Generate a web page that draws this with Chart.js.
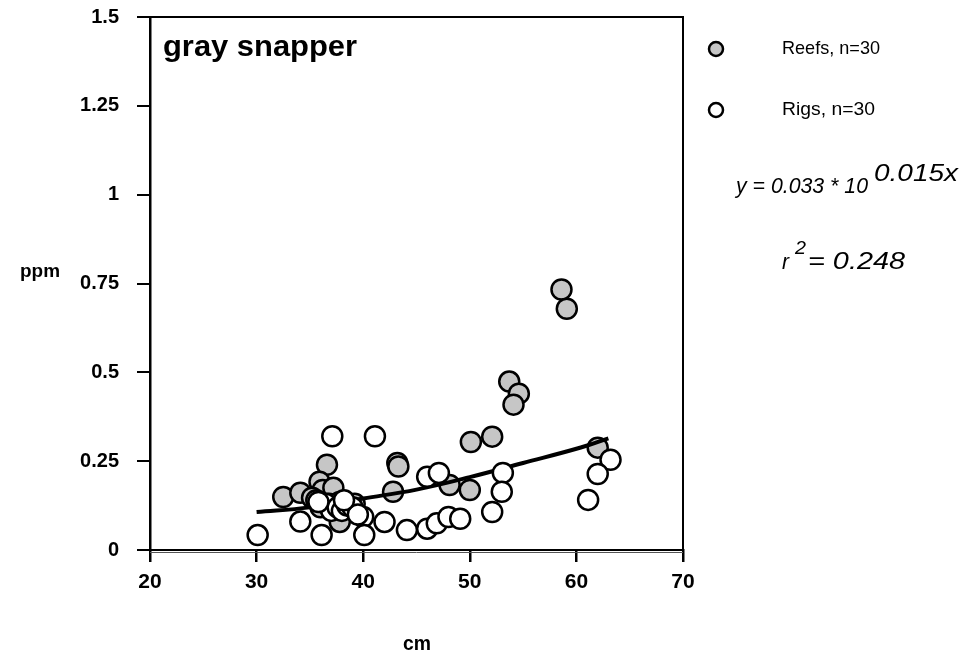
<!DOCTYPE html>
<html>
<head>
<meta charset="utf-8">
<script src="https://cdn.jsdelivr.net/npm/chart.js@4"></script>
<style>
  html, body { margin: 0; padding: 0; background: #fff; }
  #wrap { width: 969px; height: 657px; }
</style>
</head>
<body>
<div id="wrap"><canvas id="chart" width="969" height="657"></canvas></div>
<script>
// Reefs (gray)
const reefsX = [58.6, 59.1, 53.7, 54.6, 54.1, 52.1, 50.1, 62.0, 48.1, 50.0,
                43.2, 43.3, 42.8, 36.6, 32.5, 34.1, 35.9, 36.2, 37.2, 35.2,
                37.8, 35.6, 36.3, 36.8, 37.3, 37.8, 38.2, 38.7, 39.2, 36.0];
const reefsY = [0.733, 0.679, 0.474, 0.44, 0.409, 0.319, 0.304, 0.288, 0.183, 0.169,
                0.245, 0.235, 0.164, 0.24, 0.149, 0.161, 0.192, 0.169, 0.175, 0.147,
                0.079, 0.14, 0.125, 0.13, 0.12, 0.135, 0.125, 0.13, 0.13, 0.12];

// Rigs (white)
const rigsX = [30.1, 34.1, 36.1, 37.1, 41.1, 40.0, 40.1, 42.0, 44.1, 46.0,
               46.9, 48.0, 49.1, 46.0, 47.1, 53.1, 53.0, 52.1, 63.2, 62.0,
               61.1, 36.5, 37.0, 37.6, 38.0, 38.5, 39.0, 35.8, 39.5, 38.2];
const rigsY = [0.042, 0.08, 0.042, 0.32, 0.32, 0.093, 0.042, 0.079, 0.056, 0.06,
               0.075, 0.093, 0.088, 0.206, 0.217, 0.217, 0.164, 0.107, 0.254, 0.214,
               0.141, 0.13, 0.11, 0.12, 0.11, 0.125, 0.12, 0.135, 0.10, 0.14];

// fitted curve
const fitX = [30, 35, 40, 45, 50, 55, 60, 63];
const fitY = [0.107, 0.12, 0.145, 0.17, 0.205, 0.245, 0.285, 0.314];

const xTicks = [20, 30, 40, 50, 60, 70];
const yTickLabels = ['0', '0.25', '0.5', '0.75', '1', '1.25', '1.5'];

const toPts = (xs, ys) => xs.map((x, i) => ({ x: x, y: ys[i] }));

const FONT = '"Liberation Sans", Arial, sans-serif';
const GRAY = '#c6c6c6';

// squeeze/stretch a text to the width it has in the original
function fitText(ctx, txt, x, y, font, w) {
    ctx.save();
    ctx.font = font;
    const s = w / ctx.measureText(txt).width;
    ctx.translate(x, y);
    ctx.scale(s, 1);
    ctx.textAlign = 'left';
    ctx.fillText(txt, 0, 0);
    ctx.restore();
}

// box top/right + free text
const extras = {
    id: 'extras',
    afterDraw(chart) {
        const ctx = chart.ctx;
        const a = chart.chartArea;
        ctx.save();
        ctx.strokeStyle = '#000';
        ctx.lineWidth = 2;
        ctx.beginPath();
        ctx.moveTo(a.left, a.top);
        ctx.lineTo(a.right, a.top);
        ctx.lineTo(a.right, a.bottom + 2);
        ctx.stroke();
        // thin second line under the x axis
        ctx.lineWidth = 1;
        ctx.strokeStyle = '#555';
        ctx.beginPath();
        ctx.moveTo(a.left, a.bottom + 2.5);
        ctx.lineTo(a.right, a.bottom + 2.5);
        ctx.stroke();

        ctx.fillStyle = '#000';
        ctx.textBaseline = 'middle';
        fitText(ctx, 'gray snapper', 163, 48, 'bold 29px ' + FONT, 194);
        fitText(ctx, 'ppm', 20, 272, 'bold 19px ' + FONT, 40);
        fitText(ctx, 'cm', 403, 644, 'bold 20px ' + FONT, 28);

        // legend
        ctx.lineWidth = 2.5;
        ctx.strokeStyle = '#000';
        ctx.beginPath();
        ctx.arc(716, 49, 7, 0, Math.PI * 2);
        ctx.fillStyle = GRAY;
        ctx.fill();
        ctx.stroke();
        ctx.beginPath();
        ctx.arc(716, 110, 7, 0, Math.PI * 2);
        ctx.fillStyle = '#fff';
        ctx.fill();
        ctx.stroke();

        ctx.fillStyle = '#000';
        fitText(ctx, 'Reefs, n=30', 782, 49, '19px ' + FONT, 98);
        fitText(ctx, 'Rigs, n=30', 782, 110, '19px ' + FONT, 93);

        // equation
        fitText(ctx, 'y = 0.033 * 10', 736, 187, 'italic 22px ' + FONT, 132);
        fitText(ctx, '0.015x', 874, 174, 'italic 24px ' + FONT, 84);
        fitText(ctx, 'r', 782, 263, 'italic 22px ' + FONT, 7);
        fitText(ctx, '2', 795, 249, 'italic 19px ' + FONT, 11);
        fitText(ctx, '= 0.248', 808, 263, 'italic 23px ' + FONT, 97);
        ctx.restore();
    }
};

new Chart(document.getElementById('chart'), {
    type: 'scatter',
    data: {
        datasets: [
            {
                label: 'Reefs, n=30',
                data: toPts(reefsX, reefsY),
                pointRadius: 10,
                pointBorderWidth: 2.5,
                backgroundColor: GRAY,
                borderColor: '#000',
                order: 3
            },
            {
                label: 'fit',
                type: 'line',
                data: toPts(fitX, fitY),
                borderColor: '#000',
                borderWidth: 4,
                pointRadius: 0,
                tension: 0.4,
                fill: false,
                order: 2
            },
            {
                label: 'Rigs, n=30',
                data: toPts(rigsX, rigsY),
                pointRadius: 10,
                pointBorderWidth: 2.5,
                backgroundColor: '#fff',
                borderColor: '#000',
                order: 1
            }
        ]
    },
    options: {
        responsive: false,
        animation: false,
        layout: { padding: { left: 0, right: 286, top: 17, bottom: 0 } },
        plugins: {
            legend: { display: false },
            tooltip: { enabled: false }
        },
        scales: {
            x: {
                type: 'linear',
                min: 20,
                max: 70,
                afterBuildTicks: s => { s.ticks = xTicks.map(v => ({ value: v })); },
                afterFit: s => { s.height = 107; s.paddingLeft = 0; s.paddingRight = 0; },
                ticks: {
                    color: '#000',
                    font: { family: FONT, size: 21, weight: 'bold' },
                    padding: 8,
                    maxRotation: 0
                },
                grid: { drawOnChartArea: false, color: '#000', lineWidth: 2.5, tickLength: 12 },
                border: { color: '#000', width: 2 }
            },
            y: {
                min: 0,
                max: 1.5,
                afterBuildTicks: s => { s.ticks = yTickLabels.map(t => ({ value: parseFloat(t) })); },
                afterFit: s => { s.width = 150; s.paddingTop = 0; s.paddingBottom = 0; },
                ticks: {
                    color: '#000',
                    font: { family: FONT, size: 20, weight: 'bold' },
                    padding: 18,
                    callback: (v, i) => yTickLabels[i]
                },
                grid: { drawOnChartArea: false, color: '#000', lineWidth: 2, tickLength: 13 },
                border: { color: '#000', width: 2.5 }
            }
        }
    },
    plugins: [extras]
});
</script>
</body>
</html>
